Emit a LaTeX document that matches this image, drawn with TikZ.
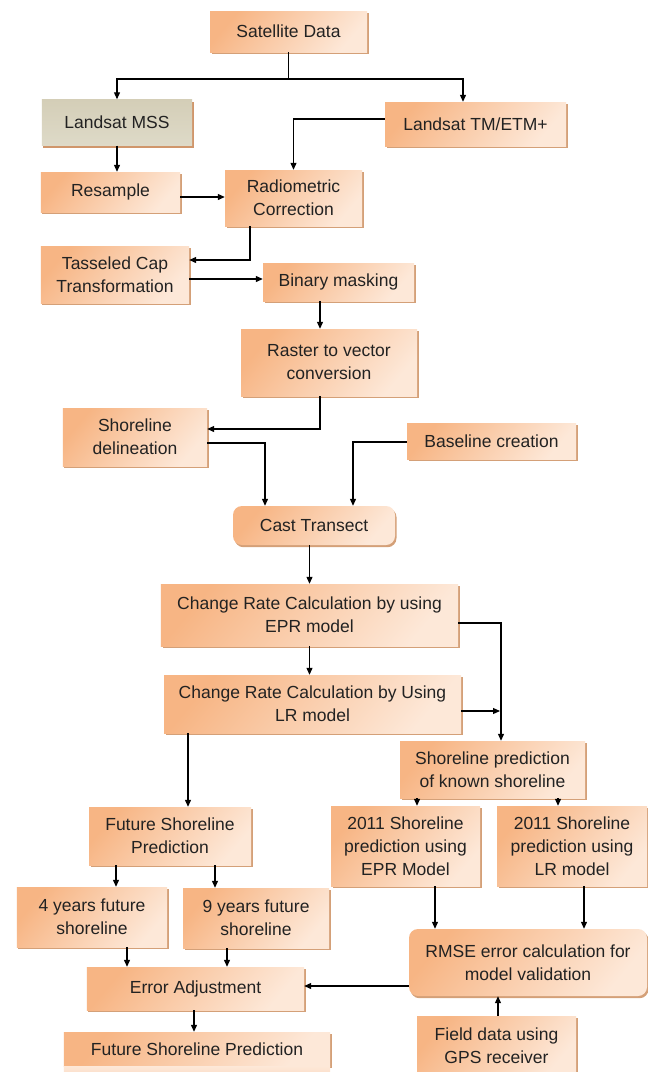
\documentclass[tikz,border=0pt]{standalone}
\usepackage{fontspec}
\setmainfont{Liberation Sans}
\usetikzlibrary{arrows.meta,shadows}
\definecolor{odark}{HTML}{F7B584}
\definecolor{olight}{HTML}{FDE8D8}
\definecolor{gdark}{HTML}{D4CEB7}
\definecolor{glight}{HTML}{DEDAC8}
\definecolor{shadowc}{HTML}{D0966A}
\definecolor{txt}{HTML}{222222}
\tikzset{
  box/.style={top color=odark, bottom color=olight, shading angle=50,
    drop shadow={shadow xshift=1.5bp, shadow yshift=-2.2bp, fill=shadowc, opacity=0.9},
    inner sep=0pt, align=center, text=txt,
    font=\fontsize{17.5bp}{23bp}\selectfont},
  graybox/.style={box, top color=gdark, bottom color=glight,
    drop shadow={shadow xshift=1.5bp, shadow yshift=-2.2bp, fill=shadowc, opacity=0.9}},
  rbox/.style={box, rounded corners=9bp},
  arr/.style={draw=black, line width=1.1bp, -{Triangle[length=7bp,width=6bp]}},
  ln/.style={draw=black, line width=1.1bp}
}
\begin{document}
\begin{tikzpicture}[x=1bp,y=-1bp]
\useasboundingbox[fill=white] (0,0) rectangle (648,1072);
\node[box, minimum width=157bp, minimum height=41bp] (sat) at (288.5,31.5) {Satellite Data};
\node[graybox, minimum width=150bp, minimum height=46bp] (mss) at (117,122.5) {Landsat MSS};
\node[box, minimum width=181bp, minimum height=44bp] (tm) at (475.5,124) {Landsat TM/ETM+};
\node[box, minimum width=139bp, minimum height=40bp] (res) at (110.5,192) {Resample};
\node[box, minimum width=137bp, minimum height=56bp] (rad) at (293.5,198) {Radiometric\\Correction};
\node[box, minimum width=148bp, minimum height=57bp] (tas) at (115,274.5) {Tasseled Cap\\Transformation};
\node[box, minimum width=151bp, minimum height=38bp] (bin) at (338.5,282) {Binary masking};
\node[box, minimum width=176bp, minimum height=67bp] (ras) at (329,362.5) {Raster to vector\\conversion};
\node[box, minimum width=144bp, minimum height=58bp] (shd) at (135,437) {Shoreline\\delineation};
\node[box, minimum width=169bp, minimum height=36bp] (base) at (491.5,441) {Baseline creation};
\node[rbox, minimum width=162bp, minimum height=39bp] (cast) at (314,525.5) {Cast Transect};
\node[box, minimum width=297bp, minimum height=62bp] (epr) at (309.5,615) {Change Rate Calculation by using\\EPR model};
\node[box, minimum width=297bp, minimum height=58bp] (lr) at (312.5,704) {Change Rate Calculation by Using\\LR model};
\node[box, minimum width=185bp, minimum height=57bp] (known) at (492.5,769.5) {Shoreline prediction\\of known shoreline};
\node[box, minimum width=162bp, minimum height=58bp] (fut) at (170,836) {Future Shoreline\\Prediction};
\node[box, minimum width=149bp, minimum height=80bp] (e11) at (405.5,846) {2011 Shoreline\\prediction using\\EPR Model};
\node[box, minimum width=150bp, minimum height=80bp] (l11) at (572,846) {2011 Shoreline\\prediction using\\LR model};
\node[box, minimum width=150bp, minimum height=60bp] (y4) at (92,917) {4 years future\\shoreline};
\node[box, minimum width=146bp, minimum height=60bp] (y9) at (256,918) {9 years future\\shoreline};
\node[box, minimum width=217bp, minimum height=43bp] (err) at (195.5,988.5) {Error Adjustment};
\node[rbox, minimum width=238bp, minimum height=67bp] (rmse) at (528,962.5) {RMSE error calculation for\\model validation};
\node[box, minimum width=159bp, minimum height=60bp] (fld) at (496.5,1046) {Field data using\\GPS receiver};
\node[box, minimum width=266bp, minimum height=34bp] (fsp) at (197,1049) {Future Shoreline Prediction};
\fill[top color=olight, bottom color=odark!70!olight] (fsp.south west) rectangle ([yshift=-30bp]fsp.south east);
% connectors
\coordinate (j1) at (288.5,79);
\draw[ln] (sat.south) -- (j1);
\draw[arr] (j1) -| (mss.north);
\draw[arr] (j1) -| ([xshift=-12.5bp]tm.north);
\draw[arr] ([yshift=5bp]tm.west) -| (rad.north);
\draw[arr] (mss.south) -- (mss.south |- res.north);
\draw[arr] ([yshift=-5bp]res.east) -- ([yshift=-5bp]res.east -| rad.west);
\draw[arr] (rad.south -| 250,0) |- ([yshift=14.5bp]tas.east);
\draw[arr] ([yshift=-4.5bp]tas.east) -- ([yshift=-4.5bp]tas.east -| bin.west);
\draw[arr] (bin.south -| 320,0) -- (ras.north -| 320,0);
\draw[arr] (ras.south -| 320,0) |- ([yshift=8bp]shd.east);
\draw[arr] ([yshift=-6bp]shd.east) -| (cast.north -| 265,0);
\draw[arr] ([yshift=-1bp]base.west) -| (cast.north -| 353,0);
\draw[arr] (cast.south -| 309.5,0) -- (epr.north);
\draw[arr] ([yshift=-8bp]epr.east) -| (known.north -| 501,0);
\draw[arr] (epr.south) -- (lr.north -| epr.south);
\draw[arr] ([yshift=-7bp]lr.east) -- ([yshift=-7bp]lr.east -| 500,0);
\draw[arr] (lr.south -| 188,0) -- (fut.north -| 188,0);
\draw[arr] (known.south -| 417,0) -- (e11.north -| 417,0);
\draw[arr] (known.south -| 558,0) -- (l11.north -| 558,0);
\draw[arr] (fut.south -| 116,0) -- (y4.north -| 116,0);
\draw[arr] (fut.south -| 215,0) -- (y9.north -| 215,0);
\draw[arr] (y4.south -| 127,0) -- (err.north -| 127,0);
\draw[arr] (y9.south -| 227,0) -- (err.north -| 227,0);
\draw[arr] (e11.south -| 435,0) -- (rmse.north -| 435,0);
\draw[arr] (l11.south -| 584,0) -- (rmse.north -| 584,0);
\draw[arr] ([yshift=-23.5bp]rmse.west) -- ([yshift=-23.5bp]rmse.west -| err.east);
\draw[arr] (fld.north -| 498,0) -- (rmse.south -| 498,0);
\draw[arr] (err.south -| 194,0) -- (fsp.north -| 194,0);
\end{tikzpicture}
\end{document}
